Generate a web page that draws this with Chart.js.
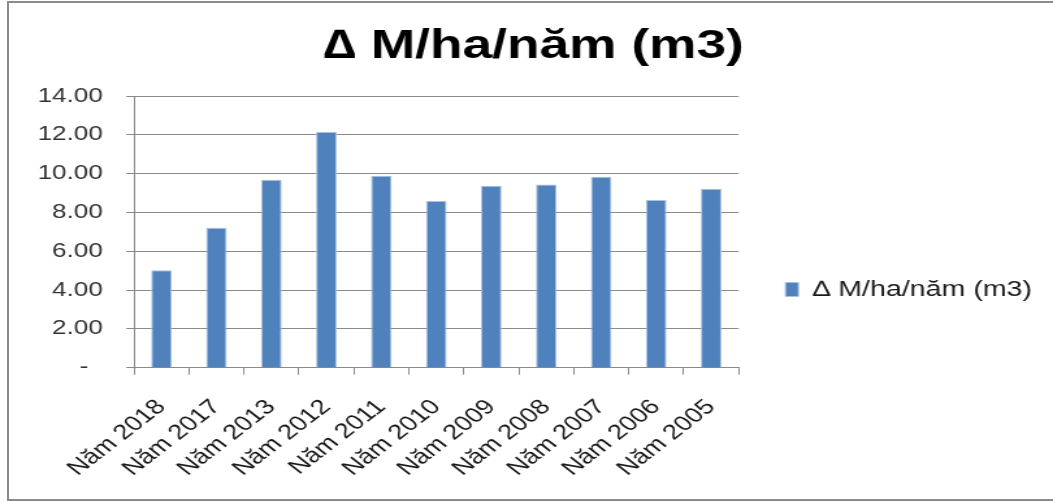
<!DOCTYPE html>
<html>
<head>
<meta charset="utf-8">
<script src="https://cdn.jsdelivr.net/npm/chart.js@4/dist/chart.umd.min.js"></script>
<style>
  body { margin: 0; overflow: hidden; background: #fff; }
  #wrap { position: relative; width: 1053px; height: 501px; overflow: hidden; }
  #c { position: absolute; left: 0; top: 0; }
  #frame { position: absolute; left: 7px; top: 1px; width: 1100px; height: 496px;
           border: 2px solid #8a8a8a; pointer-events: none; }
</style>
</head>
<body>
<div id="wrap">
  <!-- the chart is drawn narrow and stretched to the page width, like the reference -->
  <canvas id="c" width="810" height="501" style="width:1053px;height:501px"></canvas>
  <div id="frame"></div>
</div>
<script>
// data
const categories = ['Năm 2018', 'Năm 2017', 'Năm 2013', 'Năm 2012', 'Năm 2011', 'Năm 2010',
                    'Năm 2009', 'Năm 2008', 'Năm 2007', 'Năm 2006', 'Năm 2005'];
const values = [5.03, 7.21, 9.69, 12.15, 9.90, 8.60, 9.38, 9.45, 9.84, 8.65, 9.23];
const seriesName = '\u2206 M/ha/năm (m3)';
const yMin = 0;
const yMax = 14;
const yStep = 2;

const font = "'Liberation Sans', Arial, sans-serif";
const gridColor = '#8a8a8a';

const ctx = document.getElementById('c');
const chart = new Chart(ctx, {
  type: 'bar',
  data: {
    labels: categories,
    datasets: [{
      label: seriesName,
      data: values,
      backgroundColor: '#4f81bd',
      borderColor: '#a9c0de',
      borderWidth: 1,
      categoryPercentage: 1,
      barPercentage: 0.375
    }]
  },
  options: {
    responsive: false,
    animation: false,
    devicePixelRatio: 1,
    layout: { padding: { left: 11, right: 0, top: 0, bottom: 0 } },
    scales: {
      y: {
        min: yMin,
        max: yMax,
        ticks: {
          stepSize: yStep,
          padding: 18,
          color: '#333',
          font: { family: font, size: 20 },
          callback: v => v === 0 ? '-  ' : v.toFixed(2)
        },
        grid: { color: gridColor, tickLength: 6 },
        border: { color: gridColor }
      },
      x: {
        ticks: {
          minRotation: 45,
          maxRotation: 45,
          padding: 20,
          labelOffset: 0,
          color: '#1a1a1a',
          font: { family: font, size: 21 }
        },
        grid: { color: gridColor, drawOnChartArea: false, tickLength: 7, offset: true },
        border: { color: gridColor }
      }
    },
    plugins: {
      legend: {
        display: true,
        position: 'right',
        maxWidth: 400,
        // empty title only pushes the entry down to where the reference has it
        title: { display: true, text: ' ', font: { size: 10 }, padding: { top: 66, bottom: 0 } },
        labels: {
          boxWidth: 10,
          boxHeight: 14,
          padding: 36,
          color: '#1a1a1a',
          font: { family: font, size: 22 },
          // one trailing space widens the legend a little, pulling the plot edge left
          generateLabels: c => Chart.defaults.plugins.legend.labels.generateLabels(c)
            .map(item => ({ ...item, text: item.text + ' ' }))
        }
      },
      title: {
        display: true,
        text: seriesName,
        color: '#000',
        font: { family: font, size: 41, weight: 'bold' },
        padding: { top: 22, bottom: 25 }
      },
      tooltip: { enabled: false }
    }
  }
});
</script>
</body>
</html>
